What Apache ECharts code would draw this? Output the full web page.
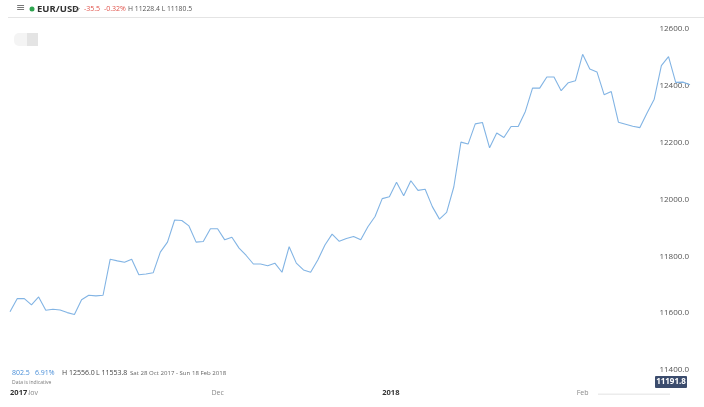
<!DOCTYPE html>
<html>
<head>
<meta charset="utf-8">
<script src="https://cdn.jsdelivr.net/npm/echarts@6/dist/echarts.min.js"></script>
<style>
  html, body { margin: 0; padding: 0; background: #fff; }
  #chart { width: 704px; height: 407px; }
</style>
</head>
<body>
<div id="chart"></div>
<script>
// EUR/USD-style series, Sat 28 Oct 2017 - Sun 18 Feb 2018
const values = [
  11605, 11651, 11651, 11629, 11657, 11610, 11614, 11611, 11602, 11595,
  11647, 11663, 11661, 11663, 11790, 11784, 11779, 11790, 11735, 11738,
  11742, 11815, 11850, 11928, 11926, 11907, 11850, 11852, 11897, 11897,
  11858, 11867, 11829, 11803, 11773, 11773, 11767, 11776, 11744, 11834,
  11776, 11752, 11744, 11787, 11840, 11878, 11853, 11863, 11870, 11858,
  11904, 11940, 12003, 12010, 12061, 12013, 12066, 12032, 12036, 11975,
  11931, 11955, 12044, 12202, 12195, 12266, 12271, 12182, 12234, 12218,
  12257, 12257, 12310, 12392, 12392, 12431, 12431, 12383, 12411, 12418,
  12511, 12459, 12449, 12369, 12380, 12272, 12265, 12258, 12253, 12304,
  12353, 12471, 12503, 12412, 12413, 12404
];
const categories = values.map((_, i) => String(i));
// x-axis labels: [category index, text]
const monthLabels = [[3, 'Nov'], [29, 'Dec'], [80, 'Feb']];
const yearLabels = [[1, '2017'], [53, '2018']];

const header = {
  symbol: 'EUR/USD', change: '-35.5', changePct: '-0.32%', hl: 'H 11228.4 L 11180.5'
};
const footer = {
  change: '802.5', changePct: '6.91%', high: 'H 12556.0', low: 'L 11553.8',
  range: 'Sat 28 Oct 2017 - Sun 18 Feb 2018', note: 'Data is indicative'
};
const lastTag = '11191.8';

const FONT = '"Open Sans", "Noto Sans", sans-serif';
const monthMap = new Map(monthLabels);
const yearMap = new Map(yearLabels);

const chart = echarts.init(document.getElementById('chart'), null, { renderer: 'canvas' });
chart.setOption({
  animation: false,
  backgroundColor: '#fff',
  grid: { left: 10, right: 14, top: 29, bottom: 37 },
  xAxis: [
    {
      type: 'category', data: categories, boundaryGap: false, position: 'bottom',
      axisLine: { show: false }, axisTick: { show: false }, splitLine: { show: false },
      axisLabel: {
        interval: (i) => monthMap.has(i),
        formatter: (v) => monthMap.get(Number(v)) || '',
        color: '#8a8a8a', fontSize: 7, fontFamily: FONT, margin: 18, lineHeight: 9
      }
    },
    {
      type: 'category', data: categories, boundaryGap: false, position: 'bottom', offset: 0,
      axisLine: { show: false }, axisTick: { show: false }, splitLine: { show: false },
      axisLabel: {
        interval: (i) => yearMap.has(i),
        formatter: (v) => yearMap.get(Number(v)) || '',
        color: '#333', fontSize: 7.5, fontWeight: 'bold', fontFamily: FONT,
        margin: 18, lineHeight: 9, backgroundColor: '#fff', padding: [0, 1, 0, 4]
      }
    }
  ],
  yAxis: {
    type: 'value', position: 'right', min: 11400, max: 12600, interval: 200,
    axisLine: { show: false }, axisTick: { show: false }, splitLine: { show: false },
    axisLabel: {
      inside: true, margin: 1, color: '#555', fontSize: 8, fontFamily: FONT,
      formatter: (v) => v.toFixed(1)
    }
  },
  series: [{
    type: 'line', data: values, xAxisIndex: 0, showSymbol: false,
    lineStyle: { color: '#82b4e4', width: 1.1 }, z: 1
  }],
  graphic: [
    // header
    { type: 'text', left: 16, top: 3, style: { text: '\u2261', fill: '#777', font: '11px "DejaVu Sans"' } },
    { type: 'circle', shape: { cx: 32, cy: 9, r: 2.5 }, style: { fill: '#2ea44f' } },
    { type: 'text', x: 37, y: 9, style: { text: header.symbol, fill: '#333', font: 'bold 9.5px ' + FONT, verticalAlign: 'middle' } },
    { type: 'polyline', shape: { points: [[75, 8], [77.5, 10.5], [80, 8]] }, style: { stroke: '#999', lineWidth: 0.8, fill: null } },
    { type: 'text', x: 84, y: 9, style: { text: header.change, fill: '#e0524a', font: '7px ' + FONT, verticalAlign: 'middle' } },
    { type: 'text', x: 104, y: 9, style: { text: header.changePct, fill: '#e0524a', font: '7px ' + FONT, verticalAlign: 'middle' } },
    { type: 'text', x: 128, y: 9, style: { text: header.hl, fill: '#555', font: '6.8px ' + FONT, verticalAlign: 'middle' } },
    { type: 'line', shape: { x1: 8, y1: 17.5, x2: 704, y2: 17.5 }, style: { stroke: '#e4e4e4', lineWidth: 1 } },
    { type: 'rect', shape: { x: 14, y: 33, width: 14, height: 13, r: [5, 0, 0, 5] }, style: { fill: '#f4f4f4' } },
    { type: 'rect', shape: { x: 27, y: 33, width: 11, height: 13 }, style: { fill: '#e4e4e4' } },
    // footer
    { type: 'text', x: 12, y: 373, style: { text: footer.change, fill: '#4a8fd8', font: '7px ' + FONT, verticalAlign: 'middle' } },
    { type: 'text', x: 35, y: 373, style: { text: footer.changePct, fill: '#4a8fd8', font: '7px ' + FONT, verticalAlign: 'middle' } },
    { type: 'text', x: 62, y: 373, style: { text: footer.high, fill: '#444', font: '7px ' + FONT, verticalAlign: 'middle' } },
    { type: 'text', x: 96, y: 373, style: { text: footer.low, fill: '#444', font: '7px ' + FONT, verticalAlign: 'middle' } },
    { type: 'text', x: 130, y: 373, style: { text: footer.range, fill: '#666', font: '6.1px ' + FONT, verticalAlign: 'middle' } },
    { type: 'text', x: 12, y: 383, style: { text: footer.note, fill: '#777', font: '5px ' + FONT, verticalAlign: 'middle' } },
    { type: 'rect', shape: { x: 598, y: 393.5, width: 72, height: 1.5 }, style: { fill: '#ececec' } },
    // last value tag
    { type: 'rect', shape: { x: 655, y: 376, width: 32, height: 12, r: 1 }, style: { fill: '#3b4c6d' } },
    { type: 'text', x: 671, y: 382, style: { text: lastTag, fill: '#fff', font: 'bold 8px ' + FONT, align: 'center', verticalAlign: 'middle' } }
  ]
});
</script>
</body>
</html>
